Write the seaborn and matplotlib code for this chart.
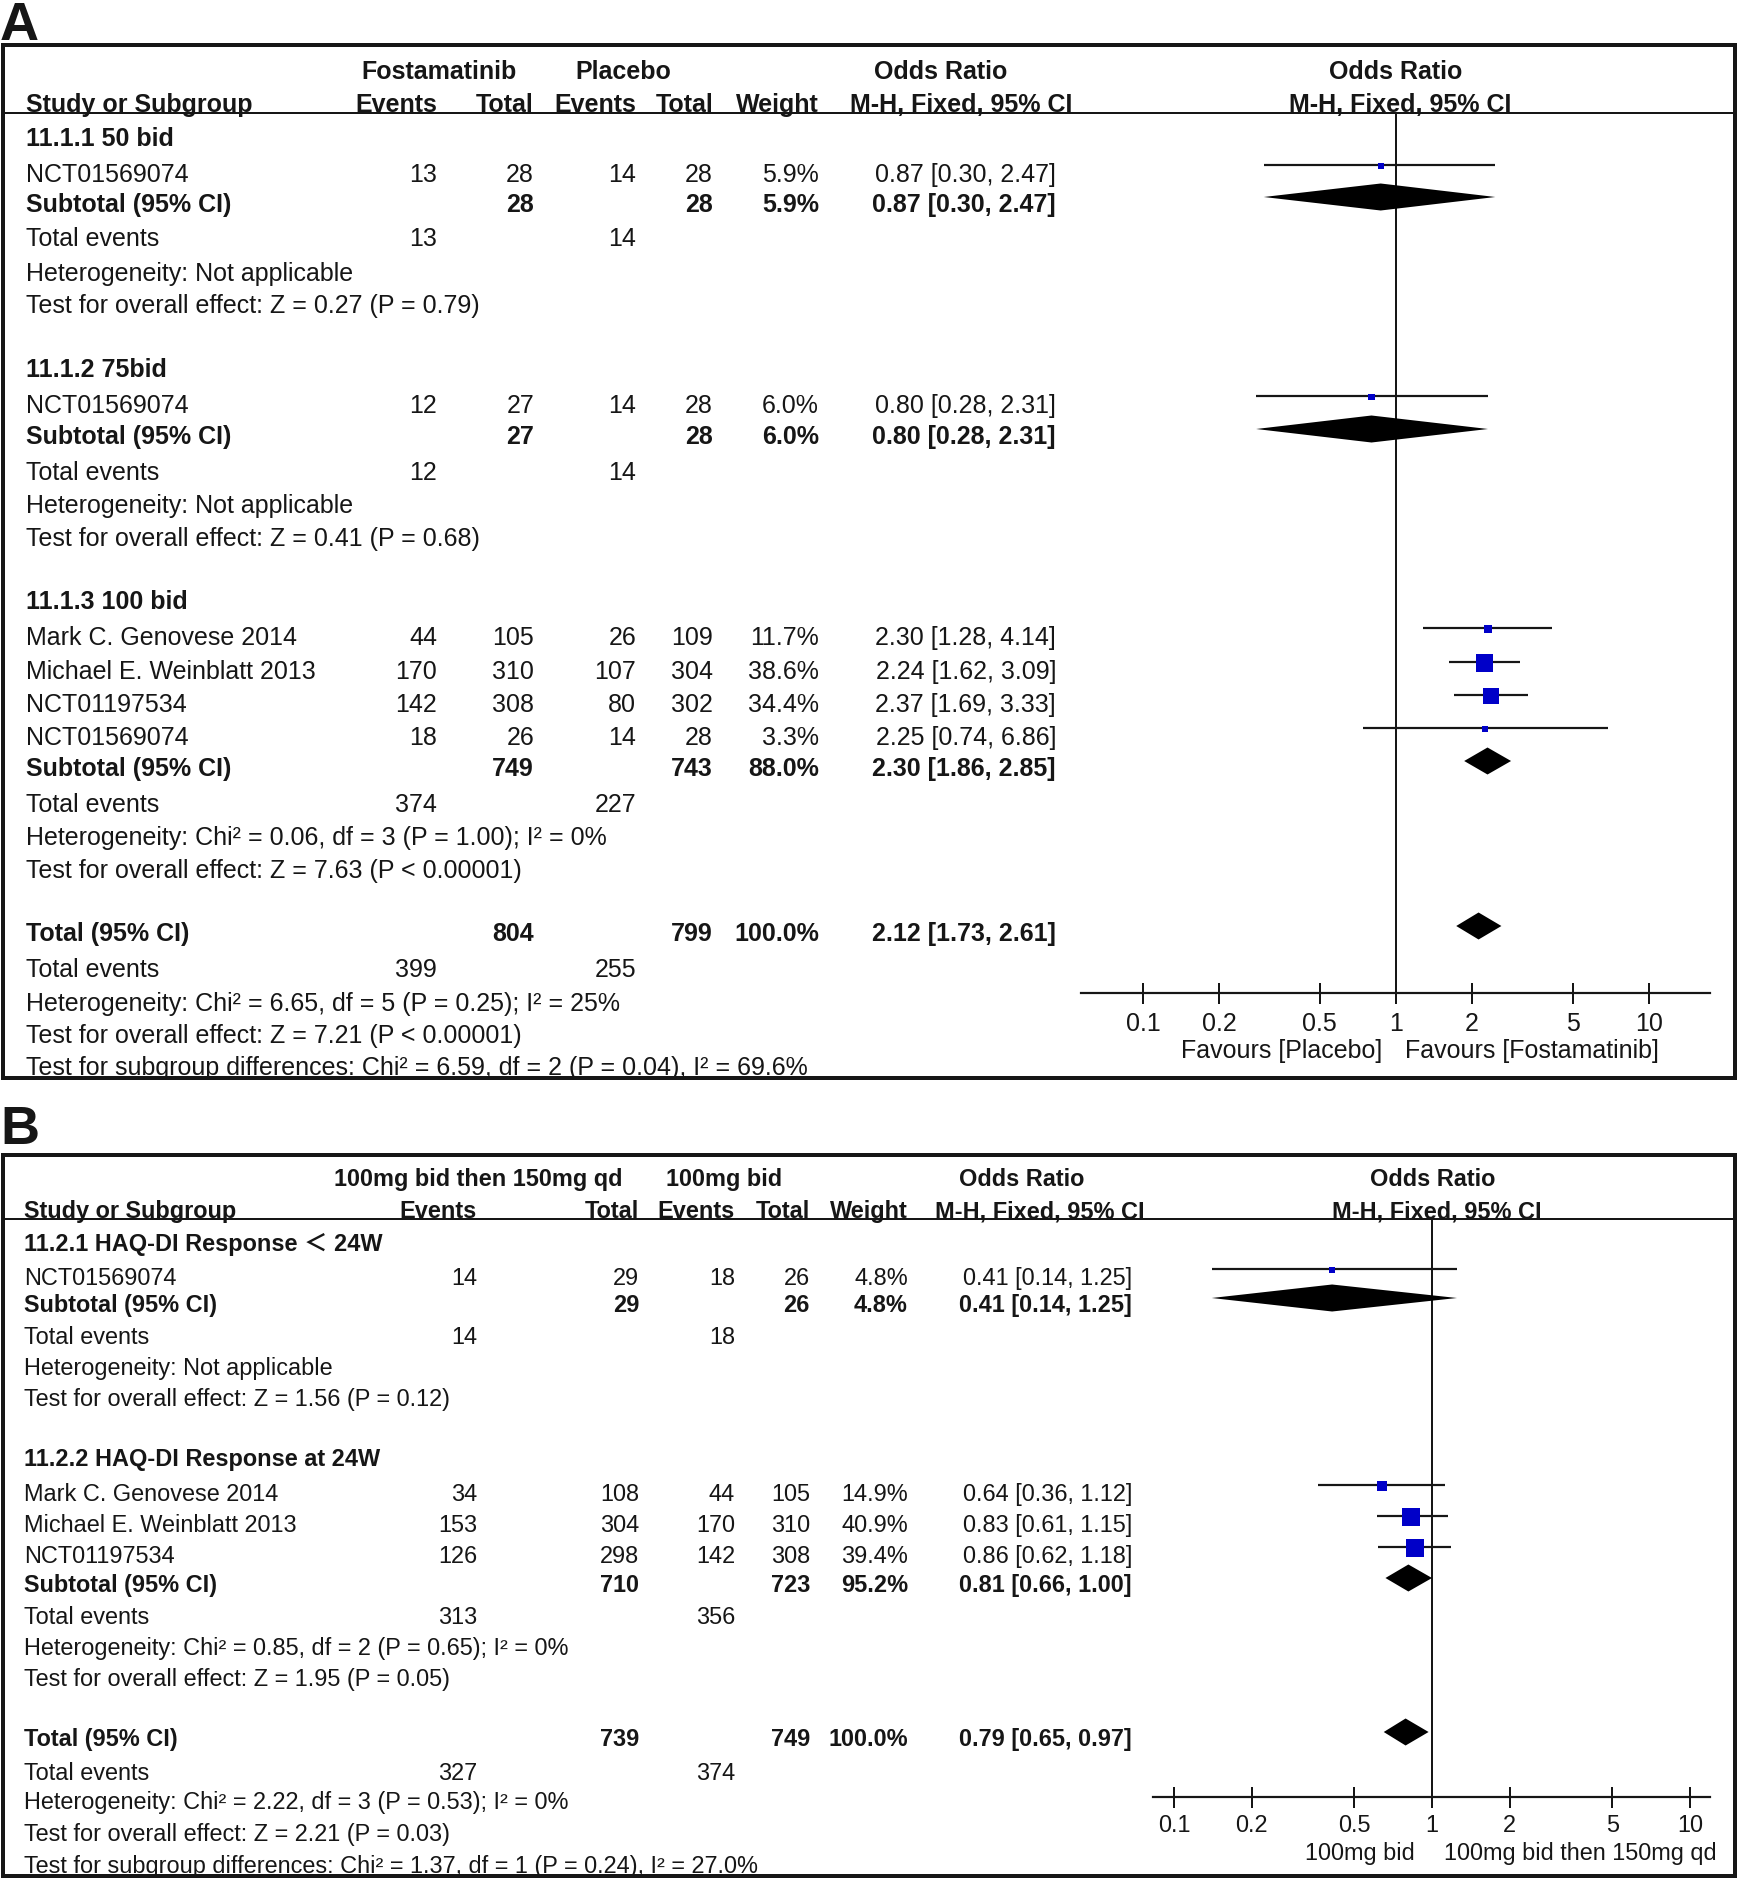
import numpy as np
import pandas as pd
import matplotlib
matplotlib.use("Agg")
import matplotlib.pyplot as plt
from matplotlib.ticker import NullLocator, FixedLocator, FixedFormatter
import seaborn as sns

# ======================= DATA : panel A =======================
A_letter = "A"
A_arms = ["Fostamatinib", "Placebo"]
A_group_titles = ["11.1.1 50 bid", "11.1.2 75bid", "11.1.3 100 bid"]
A_study_names = ["NCT01569074", "NCT01569074", "Mark C. Genovese 2014",
                 "Michael E. Weinblatt 2013", "NCT01197534", "NCT01569074"]
A_study_group = [0, 1, 2, 2, 2, 2]
A_events_exp = [13, 12, 44, 170, 142, 18]
A_total_exp = [28, 27, 105, 310, 308, 26]
A_events_ctl = [14, 14, 26, 107, 80, 14]
A_total_ctl = [28, 28, 109, 304, 302, 28]
A_weight = [5.9, 6.0, 11.7, 38.6, 34.4, 3.3]
A_or = [0.87, 0.80, 2.30, 2.24, 2.37, 2.25]
A_ci_low = [0.30, 0.28, 1.28, 1.62, 1.69, 0.74]
A_ci_high = [2.47, 2.31, 4.14, 3.09, 3.33, 6.86]
A_sub_total_exp = [28, 27, 749]
A_sub_total_ctl = [28, 28, 743]
A_sub_events_exp = [13, 12, 374]
A_sub_events_ctl = [14, 14, 227]
A_sub_weight = [5.9, 6.0, 88.0]
A_sub_or = [0.87, 0.80, 2.30]
A_sub_low = [0.30, 0.28, 1.86]
A_sub_high = [2.47, 2.31, 2.85]
A_sub_het = ["Heterogeneity: Not applicable",
             "Heterogeneity: Not applicable",
             "Heterogeneity: Chi² = 0.06, df = 3 (P = 1.00); I² = 0%"]
A_sub_test = ["Test for overall effect: Z = 0.27 (P = 0.79)",
              "Test for overall effect: Z = 0.41 (P = 0.68)",
              "Test for overall effect: Z = 7.63 (P < 0.00001)"]
A_all_total = [804, 799]
A_all_events = [399, 255]
A_all_weight = 100.0
A_all_or = [2.12, 1.73, 2.61]
A_all_het = "Heterogeneity: Chi² = 6.65, df = 5 (P = 0.25); I² = 25%"
A_all_test = "Test for overall effect: Z = 7.21 (P < 0.00001)"
A_subgroup_diff = "Test for subgroup differences: Chi² = 6.59, df = 2 (P = 0.04), I² = 69.6%"
A_favours = ["Favours [Placebo]", "Favours [Fostamatinib]"]

# ======================= DATA : panel B =======================
B_letter = "B"
B_arms = ["100mg bid then 150mg qd", "100mg bid"]
B_group_titles = ["11.2.1 HAQ-DI Response \uFF1C 24W", "11.2.2 HAQ-DI Response at 24W"]
B_study_names = ["NCT01569074", "Mark C. Genovese 2014",
                 "Michael E. Weinblatt 2013", "NCT01197534"]
B_study_group = [0, 1, 1, 1]
B_events_exp = [14, 34, 153, 126]
B_total_exp = [29, 108, 304, 298]
B_events_ctl = [18, 44, 170, 142]
B_total_ctl = [26, 105, 310, 308]
B_weight = [4.8, 14.9, 40.9, 39.4]
B_or = [0.41, 0.64, 0.83, 0.86]
B_ci_low = [0.14, 0.36, 0.61, 0.62]
B_ci_high = [1.25, 1.12, 1.15, 1.18]
B_sub_total_exp = [29, 710]
B_sub_total_ctl = [26, 723]
B_sub_events_exp = [14, 313]
B_sub_events_ctl = [18, 356]
B_sub_weight = [4.8, 95.2]
B_sub_or = [0.41, 0.81]
B_sub_low = [0.14, 0.66]
B_sub_high = [1.25, 1.00]
B_sub_het = ["Heterogeneity: Not applicable",
             "Heterogeneity: Chi² = 0.85, df = 2 (P = 0.65); I² = 0%"]
B_sub_test = ["Test for overall effect: Z = 1.56 (P = 0.12)",
              "Test for overall effect: Z = 1.95 (P = 0.05)"]
B_all_total = [739, 749]
B_all_events = [327, 374]
B_all_weight = 100.0
B_all_or = [0.79, 0.65, 0.97]
B_all_het = "Heterogeneity: Chi² = 2.22, df = 3 (P = 0.53); I² = 0%"
B_all_test = "Test for overall effect: Z = 2.21 (P = 0.03)"
B_subgroup_diff = "Test for subgroup differences: Chi² = 1.37, df = 1 (P = 0.24), I² = 27.0%"
B_favours = ["100mg bid", "100mg bid then 150mg qd"]

# shared
axis_ticks = [0.1, 0.2, 0.5, 1, 2, 5, 10]
axis_tick_labels = ["0.1", "0.2", "0.5", "1", "2", "5", "10"]
col_headers = ["Study or Subgroup", "Events", "Total", "Events", "Total", "Weight",
               "Odds Ratio", "M-H, Fixed, 95% CI"]

# ======================= STYLE / LAYOUT =======================
sns.set_theme(style="white")
plt.rcParams["font.family"] = ["Liberation Sans", "Noto Sans CJK SC", "DejaVu Sans"]

W, H = 1737, 1879
PX = 72.0 / 100.0          # points per pixel
INK = "#161616"
BLUE = "#0000C8"
STUDY_DY = -8
DIAM_DY = -6
DIAM_HALF = 13.5

layout_A = dict(
    fs=18.0, cap=8.7,
    box=(3, 1735, 45, 1078), letter=(0, 40), hline=113, head=(70, 103),
    name_x=26, cols=[437, 534, 636, 713, 819, 1056],
    arm_c=[439, 623], or_c=941, mh_c=961, f_or_c=1396, f_mh_c=1400,
    axis_x=(1081, 1710), axis_y=993, one_x=1396, decade=253,
    fav_y=1049, fav_off=(-14, 9), tick_pad=6.0,
    rows=[137, 173, 203, 237, 272, 304, 368, 404, 435, 471, 504, 537,
          600, 636, 670, 703, 736, 767, 803, 836, 869, 932, 968, 1002, 1034, 1066],
)
layout_B = dict(
    fs=16.9, cap=8.2,
    box=(3, 1735, 1155, 1876), letter=(0, 1144), hline=1219, head=(1178, 1210),
    name_x=24, cols=[477, 639, 735, 810, 908, 1132],
    arm_c=[478, 724], or_c=1022, mh_c=1040, f_or_c=1433, f_mh_c=1437,
    axis_x=(1153, 1710), axis_y=1797, one_x=1432, decade=258,
    fav_y=1852, fav_off=(-17, 12), tick_pad=4.5,
    rows=[1243, 1277, 1304, 1336, 1367, 1398, 1458, 1493, 1524, 1555, 1584,
          1616, 1647, 1678, 1738, 1772, 1801, 1833, 1865],
)

panel_A = dict(letter=A_letter, arms=A_arms, groups=A_group_titles, names=A_study_names,
               sg=A_study_group, ee=A_events_exp, te=A_total_exp, ec=A_events_ctl,
               tc=A_total_ctl, w=A_weight, orr=A_or, lo=A_ci_low, hi=A_ci_high,
               s_te=A_sub_total_exp, s_tc=A_sub_total_ctl, s_ee=A_sub_events_exp,
               s_ec=A_sub_events_ctl, s_w=A_sub_weight, s_or=A_sub_or, s_lo=A_sub_low,
               s_hi=A_sub_high, s_het=A_sub_het, s_test=A_sub_test,
               a_t=A_all_total, a_e=A_all_events, a_w=A_all_weight, a_or=A_all_or,
               a_het=A_all_het, a_test=A_all_test, diff=A_subgroup_diff, fav=A_favours)
panel_B = dict(letter=B_letter, arms=B_arms, groups=B_group_titles, names=B_study_names,
               sg=B_study_group, ee=B_events_exp, te=B_total_exp, ec=B_events_ctl,
               tc=B_total_ctl, w=B_weight, orr=B_or, lo=B_ci_low, hi=B_ci_high,
               s_te=B_sub_total_exp, s_tc=B_sub_total_ctl, s_ee=B_sub_events_exp,
               s_ec=B_sub_events_ctl, s_w=B_sub_weight, s_or=B_sub_or, s_lo=B_sub_low,
               s_hi=B_sub_high, s_het=B_sub_het, s_test=B_sub_test,
               a_t=B_all_total, a_e=B_all_events, a_w=B_all_weight, a_or=B_all_or,
               a_het=B_all_het, a_test=B_all_test, diff=B_subgroup_diff, fav=B_favours)

fig = plt.figure(figsize=(W / 100, H / 100), dpi=100)
fig.patch.set_facecolor("white")


def fmt_or(o, l, h):
    return f"{o:.2f} [{l:.2f}, {h:.2f}]"


def draw_panel(d, L):
    FS, CAP = L["fs"], L["cap"]

    def txt(ax, x, yc, s, ha="left", bold=False):
        ax.text(x, yc + CAP, s, ha=ha, va="baseline", fontsize=FS,
                fontweight="bold" if bold else "normal", color=INK, zorder=3)

    x0, x1, y0, y1 = L["box"]
    ax = fig.add_axes([x0 / W, 1 - y1 / H, (x1 - x0) / W, (y1 - y0) / H])
    ax.set_xlim(x0, x1)
    ax.set_ylim(y1, y0)
    ax.set_xticks([])
    ax.set_yticks([])
    ax.set_facecolor("white")
    for s in ax.spines.values():
        s.set_visible(True)
        s.set_linewidth(4 * PX)
        s.set_edgecolor(INK)
        s.set_zorder(10)
    ax.plot([x0, x1], [L["hline"], L["hline"]], color=INK, lw=2 * PX,
            solid_capstyle="butt", zorder=4)
    fig.text(L["letter"][0] / W, 1 - L["letter"][1] / H, d["letter"], fontsize=39,
             fontweight="bold", ha="left", va="baseline", color=INK)

    # headers
    h1, h2 = L["head"]
    c = L["cols"]
    txt(ax, L["arm_c"][0], h1, d["arms"][0], ha="center", bold=True)
    txt(ax, L["arm_c"][1], h1, d["arms"][1], ha="center", bold=True)
    txt(ax, L["or_c"], h1, col_headers[6], ha="center", bold=True)
    txt(ax, L["f_or_c"], h1, col_headers[6], ha="center", bold=True)
    txt(ax, L["name_x"], h2, col_headers[0], bold=True)
    for k in range(5):
        txt(ax, c[k], h2, col_headers[k + 1], ha="right", bold=True)
    txt(ax, L["mh_c"], h2, col_headers[7], ha="center", bold=True)
    txt(ax, L["f_mh_c"], h2, col_headers[7], ha="center", bold=True)

    # forest axes
    ax0, ax1 = L["axis_x"]
    top, bot = L["hline"], L["axis_y"]
    fa = fig.add_axes([ax0 / W, 1 - bot / H, (ax1 - ax0) / W, (bot - top) / H])
    fa.set_xscale("log")
    fa.patch.set_alpha(0)

    ys = iter(L["rows"])
    sq_x, sq_y, sq_s = [], [], []
    diamonds = []
    for g, title in enumerate(d["groups"]):
        y = next(ys)
        txt(ax, L["name_x"], y, title, bold=True)
        for i in [i for i, gg in enumerate(d["sg"]) if gg == g]:
            y = next(ys)
            txt(ax, L["name_x"], y, d["names"][i])
            txt(ax, c[0], y, str(d["ee"][i]), ha="right")
            txt(ax, c[1], y, str(d["te"][i]), ha="right")
            txt(ax, c[2], y, str(d["ec"][i]), ha="right")
            txt(ax, c[3], y, str(d["tc"][i]), ha="right")
            txt(ax, c[4], y, f"{d['w'][i]:.1f}%", ha="right")
            txt(ax, c[5], y, fmt_or(d["orr"][i], d["lo"][i], d["hi"][i]), ha="right")
            fa.hlines(y + STUDY_DY, d["lo"][i], d["hi"][i], color=INK, lw=2.2 * PX, zorder=3)
            side = 4.1 + 0.335 * d["w"][i]
            sq_x.append(d["orr"][i])
            sq_y.append(y + STUDY_DY + 1)
            sq_s.append((side * PX) ** 2)
        y = next(ys)
        txt(ax, L["name_x"], y, "Subtotal (95% CI)", bold=True)
        txt(ax, c[1], y, str(d["s_te"][g]), ha="right", bold=True)
        txt(ax, c[3], y, str(d["s_tc"][g]), ha="right", bold=True)
        txt(ax, c[4], y, f"{d['s_w'][g]:.1f}%", ha="right", bold=True)
        txt(ax, c[5], y, fmt_or(d["s_or"][g], d["s_lo"][g], d["s_hi"][g]), ha="right", bold=True)
        diamonds.append((d["s_or"][g], d["s_lo"][g], d["s_hi"][g], y + DIAM_DY))
        y = next(ys)
        txt(ax, L["name_x"], y, "Total events")
        txt(ax, c[0], y, str(d["s_ee"][g]), ha="right")
        txt(ax, c[2], y, str(d["s_ec"][g]), ha="right")
        txt(ax, L["name_x"], next(ys), d["s_het"][g])
        txt(ax, L["name_x"], next(ys), d["s_test"][g])

    y = next(ys)
    txt(ax, L["name_x"], y, "Total (95% CI)", bold=True)
    txt(ax, c[1], y, str(d["a_t"][0]), ha="right", bold=True)
    txt(ax, c[3], y, str(d["a_t"][1]), ha="right", bold=True)
    txt(ax, c[4], y, f"{d['a_w']:.1f}%", ha="right", bold=True)
    txt(ax, c[5], y, fmt_or(*d["a_or"]), ha="right", bold=True)
    diamonds.append((d["a_or"][0], d["a_or"][1], d["a_or"][2], y + DIAM_DY))
    y = next(ys)
    txt(ax, L["name_x"], y, "Total events")
    txt(ax, c[0], y, str(d["a_e"][0]), ha="right")
    txt(ax, c[2], y, str(d["a_e"][1]), ha="right")
    txt(ax, L["name_x"], next(ys), d["a_het"])
    txt(ax, L["name_x"], next(ys), d["a_test"])
    txt(ax, L["name_x"], next(ys), d["diff"])

    # squares (study estimates)
    sns.scatterplot(x=sq_x, y=sq_y, marker="s", s=sq_s, color=BLUE, linewidth=0,
                    edgecolor="none", legend=False, ax=fa, zorder=5)
    # diamonds (pooled estimates)
    for o, l, h, yd in diamonds:
        fa.fill([l, o, h, o], [yd, yd - DIAM_HALF, yd, yd + DIAM_HALF],
                color="black", lw=0, zorder=4)

    fa.axvline(1, color=INK, lw=2 * PX, zorder=2)
    lo_lim = 10 ** ((ax0 - L["one_x"]) / L["decade"])
    hi_lim = 10 ** ((ax1 - L["one_x"]) / L["decade"])
    fa.set_xlim(lo_lim, hi_lim)
    fa.set_ylim(bot, top)
    for side in ["top", "left", "right"]:
        fa.spines[side].set_visible(False)
    fa.spines["bottom"].set_visible(True)
    fa.spines["bottom"].set_linewidth(2.2 * PX)
    fa.spines["bottom"].set_edgecolor(INK)
    fa.set_yticks([])
    fa.xaxis.set_major_locator(FixedLocator(axis_ticks))
    fa.xaxis.set_major_formatter(FixedFormatter(axis_tick_labels))
    fa.xaxis.set_minor_locator(NullLocator())
    fa.tick_params(axis="x", which="major", bottom=True, direction="inout",
                   length=21 * PX, width=2 * PX, color=INK, pad=L["tick_pad"],
                   labelsize=FS, labelcolor=INK)
    fa.set_xlabel("")
    fa.set_ylabel("")
    fa.grid(False)

    fav_b = L["fav_y"] + CAP
    fa.annotate(d["fav"][0], xy=(1, fav_b), xycoords="data", xytext=(L["fav_off"][0], 0),
                textcoords="offset pixels", ha="right", va="baseline", fontsize=FS,
                color=INK, annotation_clip=False)
    fa.annotate(d["fav"][1], xy=(1, fav_b), xycoords="data", xytext=(L["fav_off"][1], 0),
                textcoords="offset pixels", ha="left", va="baseline", fontsize=FS,
                color=INK, annotation_clip=False)


draw_panel(panel_A, layout_A)
draw_panel(panel_B, layout_B)

fig.savefig("out.png", dpi=100, facecolor="white")
